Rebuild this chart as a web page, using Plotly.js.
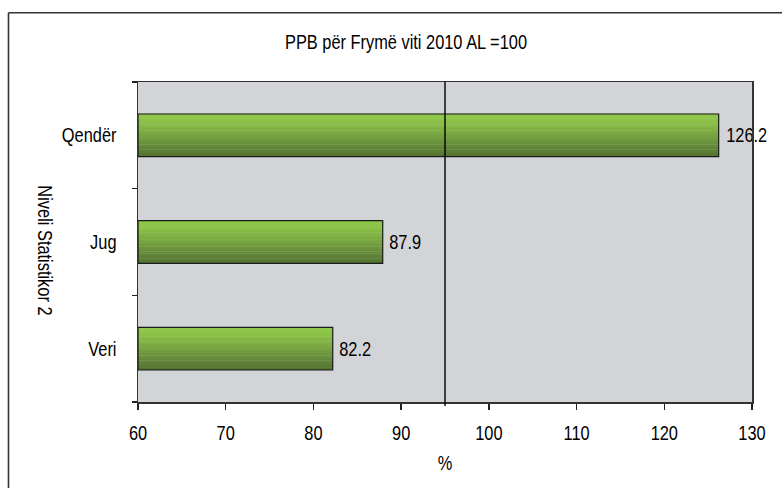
<!DOCTYPE html>
<html>
<head>
<meta charset="utf-8">
<script src="https://cdn.plot.ly/plotly-3.0.1.min.js"></script>
<style>html,body{margin:0;padding:0;background:#fff;}#chart{width:782px;height:488px;}</style>
</head>
<body>
<div id="chart"></div>
<script>
// ---- data ----
const categories = ['Veri', 'Jug', 'Qendër'];
const values = [82.2, 87.9, 126.2];
const xTickVals = [60, 70, 80, 90, 100, 110, 120, 130];
const refValue = 95;
const chartTitle = 'PPB për Frymë viti 2010 AL =100';
const xTitle = '%';
const yTitle = 'Niveli Statistikor 2';

// ---- style ----
const FONT = '"Liberation Sans", Arial, sans-serif';
const FS = 20;
const NARROW = 0.82; // horizontal squeeze to imitate a narrow face
const xRange = [60, 130];
const barWidth = 0.40;
const bandColors = [ // bottom -> top
  '#547431', '#587a33', '#5c7f35', '#608437', '#648a39', '#688f3b', '#6c953c', '#709a3e',
  '#74a040', '#78a641', '#7cab42', '#80b043', '#83b544', '#86ba45', '#89bf46', '#8bc347',
  '#8dc648', '#8ec848'
];

const traces = [];
const nb = bandColors.length;
const bw = barWidth / nb;
bandColors.forEach((c, i) => {
  traces.push({
    type: 'bar', orientation: 'h',
    y: categories, x: values.map(v => v - xRange[0]), base: xRange[0],
    width: bw * 1.15, offset: -barWidth / 2 + i * bw,
    marker: {color: c, line: {width: 0}},
    hoverinfo: 'skip', showlegend: false
  });
});
traces.push({
  type: 'bar', orientation: 'h',
  y: categories, x: values.map(v => v - xRange[0]), base: xRange[0],
  width: barWidth,
  marker: {color: 'rgba(0,0,0,0)', line: {color: '#1a1a1a', width: 1.2}},
  text: values.map(v => v.toFixed(1)),
  textposition: 'outside', constraintext: 'none', cliponaxis: false,
  textfont: {family: FONT, size: FS, color: '#000'},
  hoverinfo: 'skip', showlegend: false
});

const L = 138, R = 30, T = 82, B = 86;
const W = 782, H = 488;
const pw = W - L - R, ph = H - T - B;
const px = x => (x - L) / pw;
const py = y => (H - B - y) / ph;

const layout = {
  width: W, height: H,
  margin: {l: L, r: R, t: T, b: B},
  paper_bgcolor: '#ffffff', plot_bgcolor: '#D3D4D7',
  barmode: 'overlay',
  font: {family: FONT, size: FS, color: '#000'},
  title: {text: chartTitle, font: {family: FONT, size: FS, color: '#000'},
          xref: 'container', yref: 'container', x: 406 / W, y: 1 - 42.5 / H,
          xanchor: 'center', yanchor: 'middle'},
  xaxis: {
    range: xRange, tickvals: xTickVals, ticks: 'outside', ticklen: 6, tickwidth: 1.3,
    tickcolor: '#222', showgrid: false, zeroline: false,
    showline: true, linecolor: '#333', linewidth: 1.5, mirror: true,
    ticklabelstandoff: 7,
    tickfont: {family: FONT, size: FS, color: '#000'},
    title: {text: xTitle, font: {family: FONT, size: FS, color: '#000'}, standoff: 12}
  },
  yaxis: {
    type: 'category', range: [-0.5, 2.5], tickson: 'boundaries',
    ticks: 'outside', ticklen: 5, tickwidth: 1.3, tickcolor: '#222',
    showgrid: false, zeroline: false,
    showline: true, linecolor: '#333', linewidth: 1.5, mirror: true,
    ticklabelstandoff: 16,
    tickfont: {family: FONT, size: FS, color: '#000'}
  },
  shapes: [
    {type: 'line', xref: 'x', yref: 'paper', x0: refValue, x1: refValue, y0: -4 / ph, y1: 1,
     line: {color: '#000', width: 1.4}},
    {type: 'line', xref: 'paper', yref: 'paper', x0: px(8.5), x1: px(W + 20), y0: py(12.7), y1: py(12.7),
     line: {color: '#333', width: 1.6}},
    {type: 'line', xref: 'paper', yref: 'paper', x0: px(8.5), x1: px(8.5), y0: py(12.7), y1: py(H + 20),
     line: {color: '#333', width: 1.6}}
  ],
  annotations: [
    {text: yTitle, textangle: 90, xref: 'paper', yref: 'paper', x: px(45), y: py(251),
     xanchor: 'center', yanchor: 'middle', showarrow: false,
     font: {family: FONT, size: FS, color: '#000'}}
  ]
};

Plotly.newPlot('chart', traces, layout, {displayModeBar: false, staticPlot: true}).then(gd => {
  // squeeze every text horizontally about its own anchor (narrow typeface look)
  gd.querySelectorAll('svg text').forEach(t => {
    const ax = parseFloat(t.getAttribute('x')) || 0;
    const tr = t.getAttribute('transform') || '';
    t.setAttribute('transform', tr + ' translate(' + ax + ',0) scale(' + NARROW + ',1) translate(' + (-ax) + ',0)');
  });
});
</script>
</body>
</html>
